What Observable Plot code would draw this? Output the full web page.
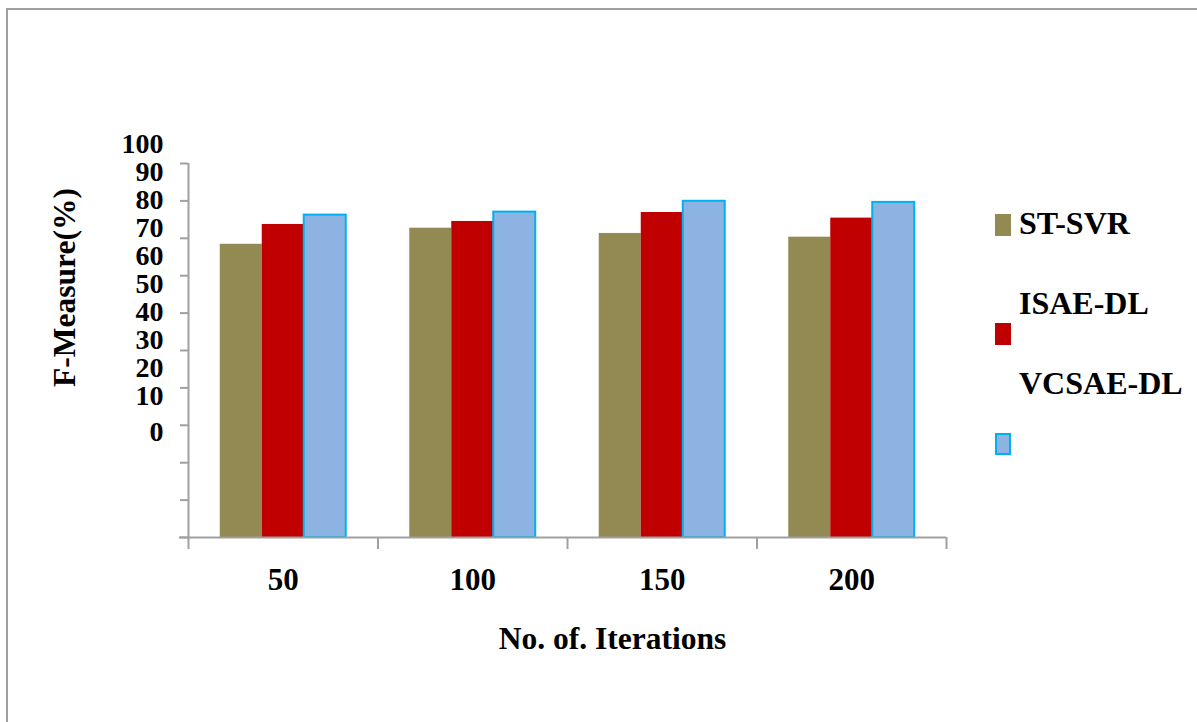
<!DOCTYPE html>
<html>
<head>
<meta charset="utf-8">
<script src="https://cdn.jsdelivr.net/npm/d3@7"></script>
<script src="https://cdn.jsdelivr.net/npm/@observablehq/plot@0.6"></script>
<style>
  html, body { margin: 0; padding: 0; background: #fff; }
  body {
    position: relative; width: 1197px; height: 722px; overflow: hidden;
    font-family: "Liberation Serif", "Times New Roman", serif; font-weight: bold;
  }
  #border {
    position: absolute; left: 6px; top: 8px; width: 1400px; height: 1000px;
    border: 2px solid #a0a0a0; box-sizing: border-box;
  }
  #chart { position: absolute; left: 0; top: 0; }
  .legend-swatch { position: absolute; width: 16px; height: 22px; box-sizing: border-box; }
  .legend-label { position: absolute; font-size: 32px; line-height: 32px; color: #000; white-space: nowrap; transform: translateY(-50%); }
</style>
</head>
<body>
<div id="border"></div>
<div id="chart"></div>
<div id="legend"></div>
<script>
// Number of iterations (x groups) and the three methods compared
const iterations = [50, 100, 150, 200];
const series = ["ST-SVR", "ISAE-DL", "VCSAE-DL"];

// F-Measure (%) for each method, one value per iteration count
const stSvr = [78.4, 82.7, 81.3, 80.3];
const isaeDl = [83.7, 84.5, 86.9, 85.4];
const vcsaeDl = [86.2, 87.0, 89.9, 89.6];

// Y axis ticks and their printed labels
const yTicks = [0, 10, 20, 30, 40, 50, 60, 70, 80, 90, 100];
const yTickLabels = ["0", "10", "20", "30", "40", "50", "60", "70", "80", "90", "100"];

const fills = ["#938953", "#c00000", "#8db3e2"];
const outline = "#00b0f0";
const axisGray = "#a0a0a0";

const rows = iterations.flatMap((it, i) =>
  [stSvr, isaeDl, vcsaeDl].map((vals, j) => ({iteration: it, series: series[j], value: vals[i]}))
);

// Each iteration owns a slot halfway to its neighbours; bars sit side by side in the middle
const step = iterations[1] - iterations[0];
const bounds = [...iterations.map(d => d - step / 2), iterations[iterations.length - 1] + step / 2];
const slot = d3.scaleBand(series, [-step / 2, step / 2]).paddingInner(0).paddingOuter(0.756);
const x1 = d => d.iteration + slot(d.series);
const x2 = d => d.iteration + slot(d.series) + slot.bandwidth();

// The printed tick labels sit in a tighter column than the tick marks
const labelY = d3.scaleLinear([0, 10, 100], [28.1, 37.8, 105.2]);

const chart = Plot.plot({
  width: 1197,
  height: 722,
  marginLeft: 188,
  marginRight: 251,
  marginTop: 163,
  marginBottom: 185,
  x: {type: "linear", domain: [bounds[0], bounds[bounds.length - 1]], axis: null},
  y: {domain: [0, 100], axis: null},
  color: {domain: series, range: fills},
  style: {fontFamily: "Liberation Serif, Times New Roman, serif", fontWeight: "bold", background: "transparent", color: "#000"},
  marks: [
    Plot.rectY(rows, {filter: d => d.series !== "VCSAE-DL", x1, x2, y: "value", fill: "series"}),
    Plot.rectY(rows, {filter: d => d.series === "VCSAE-DL", x1, x2, y: "value", fill: "series",
      stroke: outline, strokeWidth: 2}),
    // axis lines
    Plot.ruleX([bounds[0]], {stroke: axisGray, strokeWidth: 2}),
    Plot.ruleY([0], {stroke: axisGray, strokeWidth: 2, insetLeft: -9}),
    Plot.axisY({ticks: yTicks, tickSize: 8, tickFormat: () => "", label: null, stroke: axisGray, strokeWidth: 2}),
    Plot.axisX({ticks: bounds, tickSize: 12, tickFormat: () => "", label: null, stroke: axisGray, strokeWidth: 2}),
    // tick labels
    Plot.text(yTicks, {y: d => labelY(d), text: (d, i) => yTickLabels[i], frameAnchor: "left",
      dx: -25, textAnchor: "end", lineAnchor: "middle", fontSize: 28, fontWeight: "bold"}),
    Plot.text(iterations, {x: d => d, text: d => String(d), frameAnchor: "bottom",
      dy: 43, lineAnchor: "middle", fontSize: 31, fontWeight: "bold"}),
    // axis titles
    Plot.text(["No. of. Iterations"], {frameAnchor: "bottom", dx: 45, dy: 101, lineAnchor: "middle",
      textAnchor: "middle", fontSize: 31.5, fontWeight: "bold"}),
    Plot.text(["F-Measure(%)"], {frameAnchor: "left", rotate: -90, dx: -124, dy: -63, lineAnchor: "middle",
      textAnchor: "middle", fontSize: 31.5, fontWeight: "bold"})
  ]
});
document.getElementById("chart").append(chart);

// Legend: swatches and labels stacked on the right
const legend = document.getElementById("legend");
const legendItems = [
  {label: series[0], swatchTop: 214, labelMid: 223},
  {label: series[1], swatchTop: 323, labelMid: 303},
  {label: series[2], swatchTop: 433, labelMid: 383}
];
legendItems.forEach((item, i) => {
  const sw = document.createElement("div");
  sw.className = "legend-swatch";
  sw.style.left = "995px";
  sw.style.top = item.swatchTop + "px";
  sw.style.background = fills[i];
  if (i === 2) sw.style.border = `2px solid ${outline}`;
  legend.append(sw);
  const lb = document.createElement("div");
  lb.className = "legend-label";
  lb.style.left = "1019px";
  lb.style.top = item.labelMid + "px";
  lb.textContent = item.label;
  legend.append(lb);
});
</script>
</body>
</html>
